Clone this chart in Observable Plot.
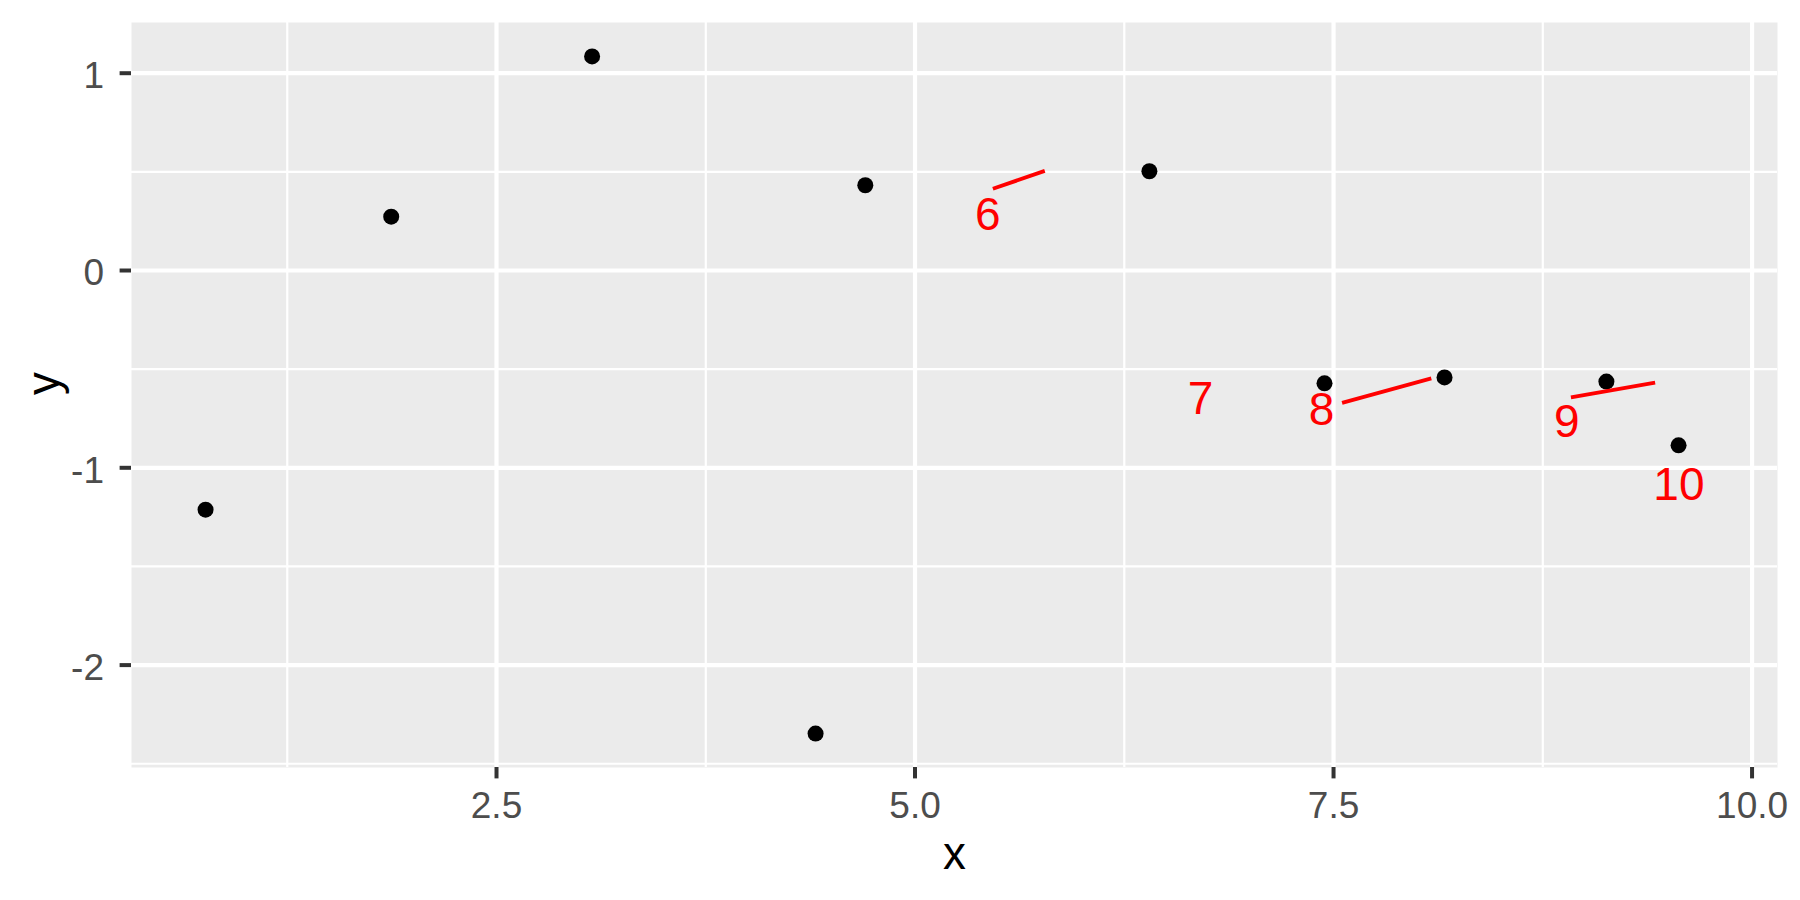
<!DOCTYPE html>
<html>
<head>
<meta charset="utf-8">
<script src="https://cdn.jsdelivr.net/npm/d3@7"></script>
<script src="https://cdn.jsdelivr.net/npm/@observablehq/plot@0.6"></script>
<style>
  html, body { margin: 0; padding: 0; background: #ffffff; }
  svg { display: block; }
</style>
</head>
<body>
<div id="chart"></div>
<script>
// ---- data ----
const pointX = [0.762, 1.871, 3.071, 4.406, 4.703, 6.400, 7.446, 8.163, 9.130, 9.561];
const pointY = [-1.212, 0.273, 1.085, -2.347, 0.432, 0.503, -0.572, -0.542, -0.563, -0.886];

const labelText = ["6", "7", "8", "9", "10"];
const labelX = [5.435, 6.706, 7.428, 8.893, 9.563];
const labelY = [0.280, -0.652, -0.706, -0.771, -1.088];

const segLabel = ["6", "8", "9"];
const segX1 = [5.465, 7.551, 8.918];
const segY1 = [0.414, -0.671, -0.643];
const segX2 = [5.775, 8.084, 9.421];
const segY2 = [0.505, -0.547, -0.568];

const xMajor = [2.5, 5.0, 7.5, 10.0];
const xMinor = [1.25, 3.75, 6.25, 8.75];
const yMajor = [1, 0, -1, -2];
const yMinor = [0.5, -0.5, -1.5, -2.5];

const xDomain = [0.3196, 10.152];
const yDomain = [-2.519, 1.257];

// ---- tables ----
const points = pointX.map((x, i) => ({x, y: pointY[i]}));
const labels = labelText.map((t, i) => ({t, x: labelX[i], y: labelY[i]}));
const segs = segLabel.map((t, i) => ({t, x1: segX1[i], y1: segY1[i], x2: segX2[i], y2: segY2[i]}));

const fmtY = d => (d < 0 ? "-" + Math.abs(d) : String(d));
const fmtX = d3.format(".1f");

const chart = Plot.plot({
  width: 1800,
  height: 900,
  marginLeft: 131,
  marginRight: 23,
  marginTop: 22,
  marginBottom: 133,
  x: {domain: xDomain},
  y: {domain: yDomain},
  style: {fontFamily: "'Liberation Sans', Arial, sans-serif", background: "#ffffff", overflow: "visible"},
  marks: [
    Plot.frame({fill: "#EBEBEB", stroke: null}),
    Plot.gridX(xMinor, {stroke: "#ffffff", strokeOpacity: 1, strokeWidth: 2.2}),
    Plot.gridY(yMinor, {stroke: "#ffffff", strokeOpacity: 1, strokeWidth: 2.2}),
    Plot.gridX(xMajor, {stroke: "#ffffff", strokeOpacity: 1, strokeWidth: 4.2}),
    Plot.gridY(yMajor, {stroke: "#ffffff", strokeOpacity: 1, strokeWidth: 4.2}),
    // ticks
    Plot.axisX(xMajor, {tickSize: 11.4, stroke: "#333333", strokeWidth: 4, tickFormat: () => "", label: null}),
    Plot.axisY(yMajor, {tickSize: 11.4, stroke: "#333333", strokeWidth: 4, tickFormat: () => "", label: null}),
    // tick labels
    Plot.axisX(xMajor, {tickSize: 0, tickPadding: 24, fill: "#4D4D4D", fontSize: 37, tickFormat: fmtX, label: null}),
    Plot.axisY(yMajor, {tickSize: 0, tickPadding: 27.5, fill: "#4D4D4D", fontSize: 37, tickFormat: fmtY, label: null, dy: 3}),
    // axis titles
    Plot.text(["x"], {frameAnchor: "bottom", lineAnchor: "middle", text: d => d, dy: 87, fontSize: 45.8, fill: "#000000"}),
    Plot.text(["y"], {frameAnchor: "left", lineAnchor: "middle", text: d => d, dx: -87, rotate: -90, fontSize: 45.8, fill: "#000000"}),
    // data
    Plot.dot(points, {x: "x", y: "y", r: 8, fill: "#000000", stroke: null}),
    Plot.link(segs, {x1: "x1", y1: "y1", x2: "x2", y2: "y2", stroke: "#FF0000", strokeWidth: 3.8}),
    Plot.text(labels, {x: "x", y: "y", text: "t", fill: "#FF0000", fontSize: 46})
  ]
});

document.getElementById("chart").appendChild(chart);
</script>
</body>
</html>
